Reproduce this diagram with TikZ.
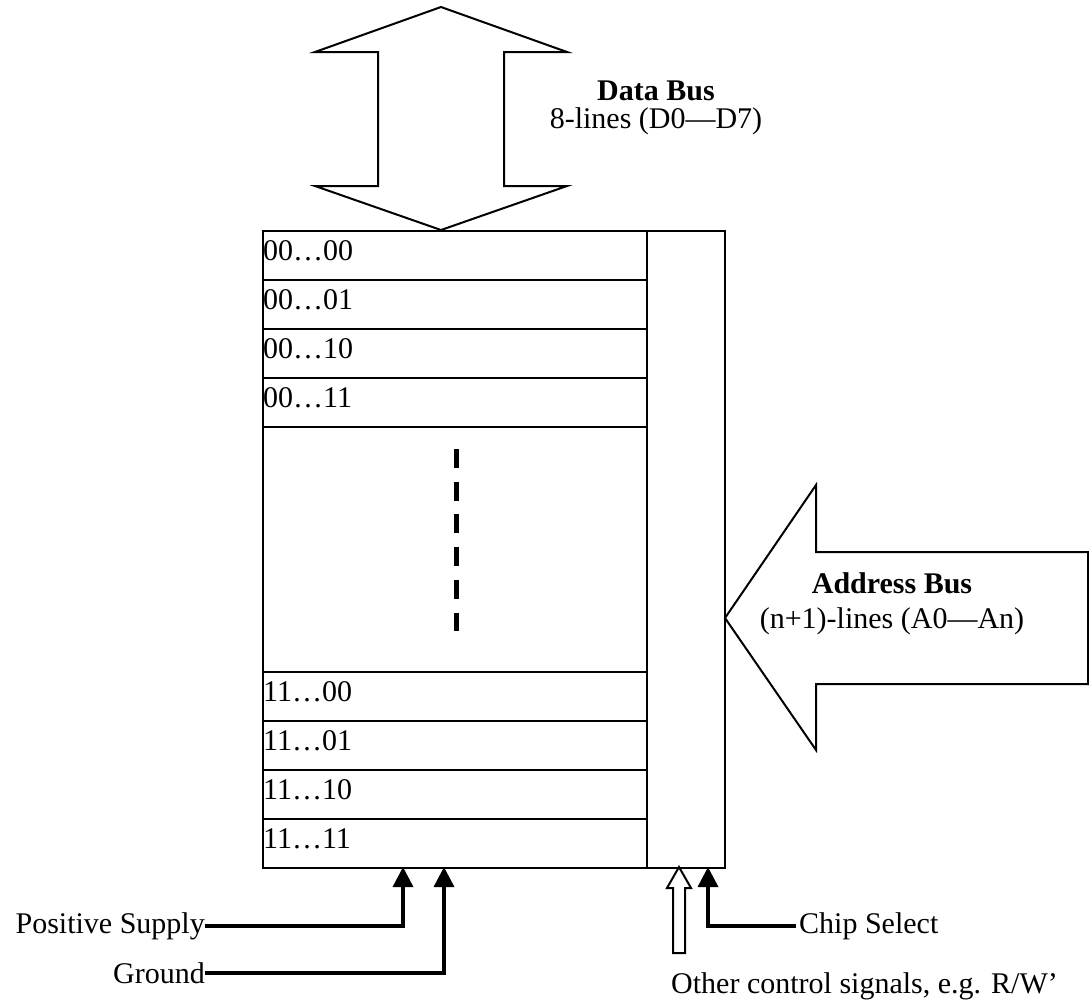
\documentclass[tikz,border=0pt]{standalone}
\usepackage{fontspec}
\setmainfont{Liberation Serif}
\usetikzlibrary{arrows.meta,positioning}

\begin{document}
\begin{tikzpicture}[
  x=1pt, y=-1pt,
  font=\fontsize{30}{30}\selectfont,
  cell/.style={draw, line width=2pt, anchor=north west, inner sep=0pt, minimum width=384pt, minimum height=49pt},
  addr/.style={anchor=north west, inner xsep=1pt, inner ysep=0pt, text height=30pt},
  bus/.style={draw, line width=2pt, line join=miter, fill=white},
  wire/.style={-{Triangle[length=20pt, width=20pt]}, line width=3.5pt},
  lbl/.style={inner sep=0pt}
]
\useasboundingbox (0,0) rectangle (1089,1007);

% memory cells
\foreach \y/\t [count=\i] in {230/00…00, 279/00…01, 328/00…10, 377/00…11,
                              671/11…00, 720/11…01, 769/11…10, 818/11…11} {
  \node[cell] (row\i) at (262,\y) {};
  \node[addr] (txt\i) at (row\i.north west) {\t};
}
\node[cell, minimum height=245pt] (mid) at (262,426) {};
\node[cell, minimum width=78pt, minimum height=637pt] (ctl) at (646,230) {};
\draw[line width=5pt, dash pattern=on 19pt off 13.7pt] (456,449) -- (456,631);

% data bus
\draw[bus] (441,7) -- (567,52) -- (504,52) -- (504,186) -- (567,186) -- (441,230)
  -- (315,186) -- (378,186) -- (378,52) -- (315,52) -- cycle;
\node[lbl, anchor=base] (dbus) at (656,100) {\bfseries Data Bus};
\node[lbl, anchor=base] (dlines) at (656,128) {8-lines (D0—D7)};

% address bus
\draw[bus] (725,618) -- (816,485) -- (816,552) -- (1088,552) -- (1088,684)
  -- (816,684) -- (816,750) -- cycle;
\node[lbl, anchor=base] (abus) at (892,593) {\bfseries Address Bus};
\node[lbl, anchor=base] (alines) at (892,628) {(n+1)-lines (A0—An)};

% supply and control pins
\coordinate (vcc) at (403,867);
\coordinate (gnd) at (444,867);
\coordinate (cs) at (708,867);
\node[lbl, anchor=east] (vcctxt) at (205,926) {Positive Supply};
\node[lbl, anchor=east] (gndtxt) at (205,973) {Ground};
\node[lbl, anchor=west, inner xsep=3pt] (cstxt) at (796,926) {Chip Select};
\node[lbl, anchor=west] (ctltxt) at (671,986) {Other control signals, e.g. R/W’};

\draw[wire] (vcctxt.east) -| (vcc);
\draw[wire] (gndtxt.east) -| (gnd);
\draw[wire] (cstxt.west) -| (cs);
\draw[line width=2pt, line join=miter] (679,867) -- (691,888) -- (685,888) -- (685,953)
  -- (673,953) -- (673,888) -- (667,888) -- cycle;
\end{tikzpicture}
\end{document}
